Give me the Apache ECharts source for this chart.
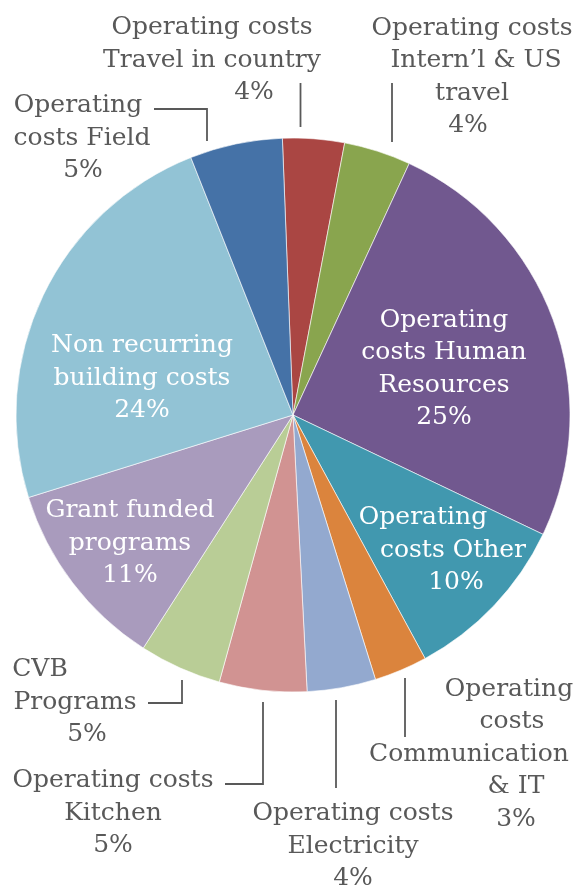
<!DOCTYPE html>
<html>
<head>
<meta charset="utf-8">
<script src="https://cdn.jsdelivr.net/npm/echarts@6/dist/echarts.min.js"></script>
<style>
  html, body { margin: 0; padding: 0; background: #ffffff; }
  #chart { width: 576px; height: 889px; }
</style>
</head>
<body>
<div id="chart"></div>
<script>
// 类别（按图中换行），顺时针从12点方向开始
const categories = [
  "Operating costs\nTravel in country",
  "Operating costs\nIntern’l & US\ntravel",
  "Operating\ncosts Human\nResources",
  "Operating\ncosts Other",
  "Operating\ncosts\nCommunication\n& IT",
  "Operating costs\nElectricity",
  "Operating costs\nKitchen",
  "CVB\nPrograms",
  "Grant funded\nprograms",
  "Non recurring\nbuilding costs",
  "Operating\ncosts Field"
];
// 份额（%），从扇区角度读出
const shares = [3.6, 3.9, 25.2, 10.0, 3.1, 4.0, 5.1, 4.8, 11.1, 23.8, 5.4];

// 扇区颜色
const palette = ["#AA4643", "#89A54E", "#71588F", "#4198AF", "#DB843D", "#93A9CF",
                 "#D19392", "#B9CD96", "#A99BBD", "#92C3D5", "#4572A7"];

// 标签放在扇区内部的类别序号
const insideIdx = [2, 3, 8, 9];

// 标签位置：块中心、逐行水平偏移、引导线
const labelSpots = [
  { x: 212, y: 60, shift: [0, 0, 42], line: [[300.5, 127], [300.5, 105], [300.5, 83]] },
  { x: 472, y: 77, shift: [0, 4, 0, -4], line: [[392, 142], [392, 112], [392, 83]] },
  { x: 444, y: 369 },
  { x: 453, y: 550, shift: [-30, 0, 3] },
  { x: 514, y: 754, shift: [-5, -2, -45, 2, 2], line: [[405, 678], [405, 708], [405, 737]] },
  { x: 353, y: 846, line: [[336, 700], [336, 744], [336, 788]] },
  { x: 113, y: 813, line: [[263, 702], [263, 784], [225, 784]] },
  { x: 75, y: 702, shift: [-35, 0, 12], line: [[182, 680], [182, 703], [148, 703]] },
  { x: 130, y: 543 },
  { x: 142, y: 378 },
  { x: 80, y: 138, shift: [-2, 2, 3], line: [[207, 141], [207, 109], [154, 109]] }
];

const FONT = "DejaVu Serif";
const total = shares.reduce((a, b) => a + b, 0);

// 每行一个富文本片段，偏移用左右内边距实现
const richFor = (idx, color) => {
  const rich = {};
  const n = categories[idx].split("\n").length + 1;
  const shift = labelSpots[idx].shift || [];
  for (let i = 0; i < n; i++) {
    const dx = shift[i] || 0;
    rich["l" + i] = {
      fontFamily: FONT,
      fontSize: 25,
      lineHeight: 32.5,
      color: color,
      padding: dx > 0 ? [0, 0, 0, 2 * dx] : [0, -2 * dx, 0, 0]
    };
  }
  return rich;
};

const labelText = (params) => {
  const lines = params.name.split("\n");
  lines.push(Math.round(params.value / total * 100) + "%");
  return lines.map((t, i) => "{l" + i + "|" + t + "}").join("\n");
};

const seriesData = categories.map((name, i) => {
  const inside = insideIdx.indexOf(i) >= 0;
  return {
    name: name,
    value: shares[i],
    label: {
      position: inside ? "inside" : "outside",
      color: inside ? "#ffffff" : "#595959",
      rich: richFor(i, inside ? "#ffffff" : "#595959")
    },
    labelLine: { show: !inside }
  };
});

const chart = echarts.init(document.getElementById("chart"), null, { renderer: "canvas" });
chart.setOption({
  animation: false,
  backgroundColor: "#ffffff",
  color: palette,
  series: [{
    type: "pie",
    center: [293, 415],
    radius: 277,
    startAngle: 92.2,
    clockwise: true,
    avoidLabelOverlap: false,
    emphasis: { disabled: true },
    itemStyle: { borderColor: "#ffffff", borderWidth: 0.6 },
    label: {
      show: true,
      formatter: labelText,
      fontFamily: FONT,
      fontSize: 25,
      lineHeight: 32.5,
      width: 320,
      align: "center"
    },
    labelLine: {
      show: true,
      lineStyle: { color: "#595959", width: 1.8 }
    },
    labelLayout: (params) => {
      const s = labelSpots[params.dataIndex];
      const out = { x: s.x, y: s.y, align: "center", verticalAlign: "middle" };
      if (s.line) out.labelLinePoints = s.line;
      return out;
    },
    data: seriesData
  }]
});
</script>
</body>
</html>
